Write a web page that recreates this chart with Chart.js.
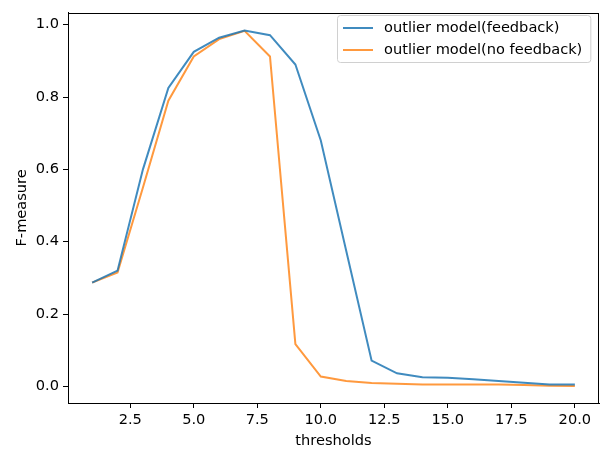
<!DOCTYPE html>
<html>
<head>
<meta charset="utf-8">
<script src="https://cdn.jsdelivr.net/npm/chart.js@4"></script>
<style>
html,body{margin:0;padding:0;background:#fff;}
#wrap{width:603px;height:450px;}
</style>
</head>
<body>
<div id="wrap"><canvas id="c" width="603" height="450"></canvas></div>
<script>
// data
const thresholds=[1,2,3,4,5,6,7,8,9,10,11,12,13,14,15,16,17,18,19,20];
const feedback=[0.287,0.32,0.60,0.825,0.925,0.964,0.984,0.971,0.89,0.68,0.375,0.071,0.036,0.025,0.024,0.02,0.015,0.01,0.005,0.005];
const noFeedback=[0.287,0.315,0.55,0.79,0.912,0.96,0.983,0.912,0.117,0.027,0.015,0.009,0.007,0.005,0.005,0.005,0.005,0.004,0.002,0.001];
const xTicks=[2.5,5,7.5,10,12.5,15,17.5,20];
const yTicks=[0,0.2,0.4,0.6,0.8,1.0];

const FONT="'DejaVu Sans', sans-serif";
Chart.defaults.font.family=FONT;
Chart.defaults.font.size=14.6;
Chart.defaults.color="#000";

const pts=arr=>arr.map((v,i)=>({x:thresholds[i],y:v}));

// box round the plot + legend in upper right
const frame={
id:"frame",
afterDraw(chart){
const {ctx,chartArea:a}=chart;
ctx.save();
ctx.strokeStyle="#000";
ctx.lineWidth=1;
ctx.strokeRect(Math.round(a.left)+0.5,Math.round(a.top)+0.5,Math.round(a.right-a.left)-1,Math.round(a.bottom-a.top));

// legend
const items=chart.data.datasets;
ctx.font="14.6px "+FONT;
let w=0;
items.forEach(d=>{w=Math.max(w,ctx.measureText(d.label).width);});
const bx=337,by=15,bw=w+55,bh=47;
ctx.beginPath();
ctx.roundRect(bx+0.5,by+0.5,bw,bh,3);
ctx.fillStyle="rgba(255,255,255,0.8)";
ctx.fill();
ctx.strokeStyle="#d0d0d0";
ctx.stroke();
items.forEach((d,i)=>{
const y=by+13+i*22;
ctx.strokeStyle=d.borderColor;
ctx.lineWidth=2;
ctx.beginPath();
ctx.moveTo(bx+6,y);ctx.lineTo(bx+36,y);
ctx.stroke();
ctx.fillStyle="#000";
ctx.textBaseline="middle";
ctx.fillText(d.label,bx+47,y);
});
ctx.restore();
}
};

new Chart(document.getElementById("c"),{
type:"line",
data:{datasets:[
{label:"outlier model(feedback)",data:pts(feedback),borderColor:"rgba(31,119,180,0.85)",borderWidth:2,pointRadius:0,tension:0},
{label:"outlier model(no feedback)",data:pts(noFeedback),borderColor:"rgba(255,127,14,0.8)",borderWidth:2,pointRadius:0,tension:0}
]},
options:{
responsive:false,
animation:false,
layout:{padding:{top:8,right:4,left:0,bottom:0}},
plugins:{legend:{display:false},tooltip:{enabled:false}},
scales:{
x:{
type:"linear",min:0.05,max:20.95,
afterBuildTicks:s=>{s.ticks=xTicks.map(v=>({value:v}));},
afterFit:s=>{s.height=47;},
ticks:{padding:3,maxRotation:0,callback:v=>v.toFixed(1)},
grid:{drawOnChartArea:false,color:"#000",tickLength:5},
border:{color:"#000"},
title:{display:true,text:"thresholds",padding:{top:0,bottom:0}}
},
y:{
min:-0.046,max:1.033,
afterBuildTicks:s=>{s.ticks=yTicks.map(v=>({value:v}));},
afterFit:s=>{s.width=68;},
ticks:{padding:4,callback:v=>v.toFixed(1)},
grid:{drawOnChartArea:false,color:"#000",tickLength:5},
border:{color:"#000"},
title:{display:true,text:"F-measure",padding:{top:13,bottom:0}}
}
}
},
plugins:[frame]
});
</script>
</body>
</html>
